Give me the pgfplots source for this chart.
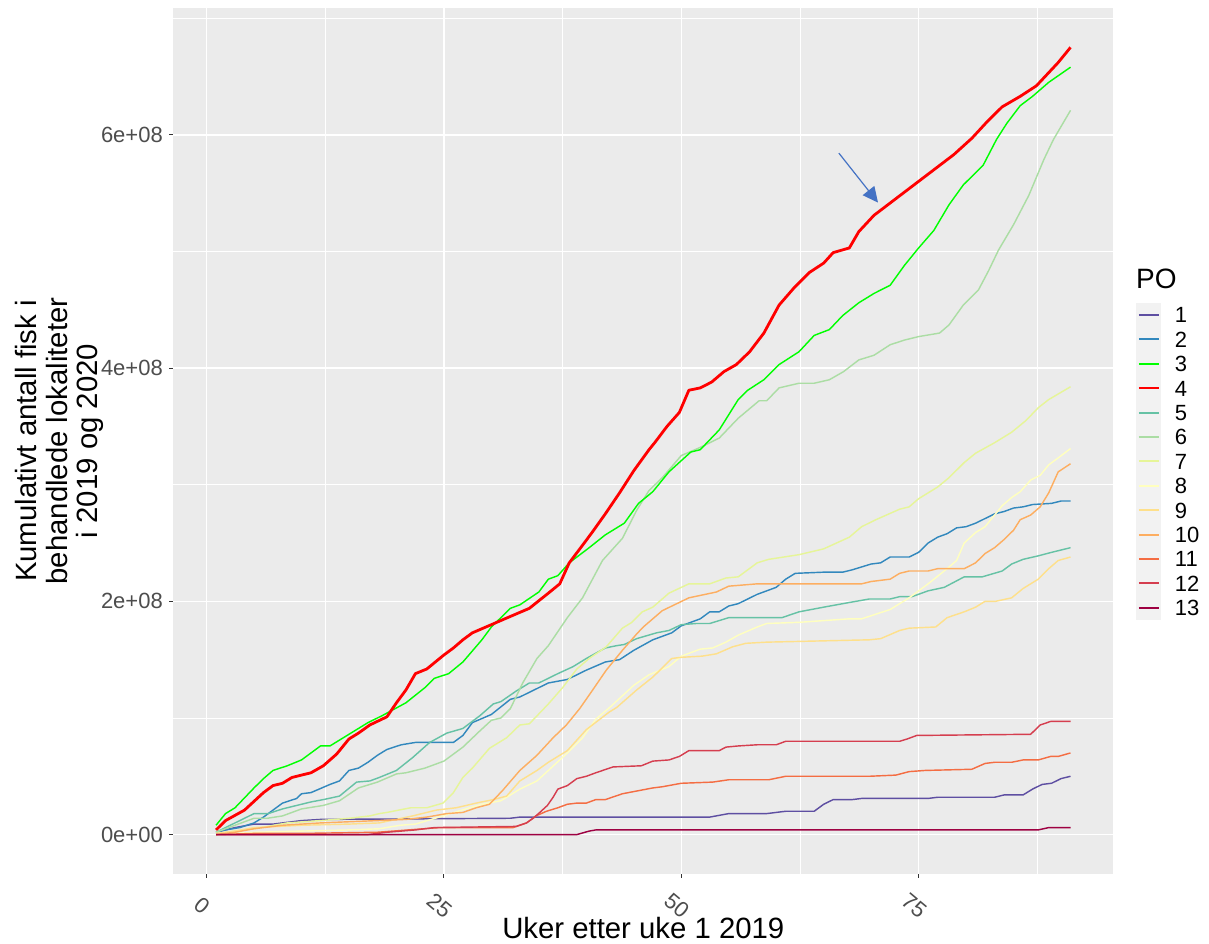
\documentclass[border=0pt]{standalone}
\usepackage{pgfplots}
\pgfplotsset{compat=1.18}
\usepackage{fontspec}
\setmainfont{Liberation Sans}
\usetikzlibrary{arrows.meta}
\definecolor{poA}{HTML}{5E4FA2}
\definecolor{poB}{HTML}{3288BD}
\definecolor{poC}{HTML}{00FF00}
\definecolor{poD}{HTML}{FF0000}
\definecolor{poE}{HTML}{66C2A5}
\definecolor{poF}{HTML}{ABDDA4}
\definecolor{poG}{HTML}{E6F598}
\definecolor{poH}{HTML}{FFFFBF}
\definecolor{poI}{HTML}{FEE08B}
\definecolor{poJ}{HTML}{FDAE61}
\definecolor{poK}{HTML}{F46D43}
\definecolor{poL}{HTML}{D53E4F}
\definecolor{poM}{HTML}{9E0142}
\definecolor{panel}{HTML}{EBEBEB}
\definecolor{keybg}{HTML}{F2F2F2}
\definecolor{arrowblue}{HTML}{4472C4}
\definecolor{ticklab}{HTML}{4D4D4D}
\definecolor{tickcol}{HTML}{333333}
\begin{document}
\begin{tikzpicture}
\useasboundingbox (-130pt,-52.5pt) rectangle (776.8pt,655.5pt);
\begin{axis}[
  at={(0,0)}, anchor=south west,
  scale only axis, width=705pt, height=649.5pt,
  xmin=-3.5, xmax=95.5, ymin=-0.3375, ymax=7.0875,
  axis background/.style={fill=panel},
  axis x line*=bottom, axis y line*=left,
  axis line style={draw=none},
  xtick={0,25,50,75}, xticklabels={0,25,50,75},
  ytick={0,2,4,6}, yticklabels={0e+00,2e+08,4e+08,6e+08},
  minor xtick={12.5,37.5,62.5,87.5}, minor ytick={1,3,5,7},
  xmajorgrids, ymajorgrids, xminorgrids, yminorgrids,
  major grid style={white, line width=1.07pt},
  minor grid style={white, line width=0.53pt},
  tick align=outside, major tick length=3pt, minor tick length=0pt,
  tick style={draw=tickcol, line width=0.8pt},
  ticklabel style={font=\fontsize{16.5}{18}\selectfont, text=ticklab},
  xticklabel style={xshift=-3.4pt, yshift=-21pt, rotate=-40, anchor=center},
  yticklabel style={anchor=east, inner sep=0pt, xshift=-4.7pt},
  xlabel={Uker etter uke 1 2019},
  xlabel style={at={(axis description cs:0.5,-0.062)}, anchor=center, font=\fontsize{22}{23}\selectfont},
  ylabel={Kumulativt antall fisk i\\behandlede lokaliteter\\i 2019 og 2020},
  ylabel style={at={(axis description cs:-0.121,0.5)}, anchor=center, align=center, font=\fontsize{22}{23}\selectfont},
  clip=false,
  legend style={at={(1.0263,0.6552)}, anchor=north west, draw=none, fill=none, inner sep=0pt, outer sep=0pt,
    row sep=0pt, column sep=11.25pt,
    nodes={inner sep=0pt, text height=12.2pt, text depth=6.1pt, anchor=base west},
    font=\fontsize{16.5}{18}\selectfont},
  legend cell align=left,
  legend image code/.code={\draw[line width=1.5pt, #1] (0pt,5.9pt) -- (15pt,5.9pt);},
  every axis plot/.append style={line width=1.07pt, line join=round, no markers},
]
\fill[keybg] (axis description cs:1.0241,0.2933) rectangle (axis description cs:1.0507,0.6594);
\node[anchor=west, inner sep=0pt, font=\fontsize{21}{22}\selectfont] at (axis description cs:1.0241,0.6871) {PO};
% 1
\addplot[color=poA, forget plot] coordinates {(1,0.02) (3,0.06) (5,0.09) (7,0.09) (10,0.12) (12,0.13) (32,0.14) (33,0.15) (53,0.15) (55,0.18) (59,0.18) (61,0.20) (64,0.20) (65,0.26) (66,0.30) (68,0.30) (69,0.31) (76,0.31) (77,0.32) (83,0.32) (84,0.34) (86,0.34) (87,0.39) (88,0.43) (89,0.44) (90,0.48) (91,0.50)};
% 2
\addplot[color=poB, forget plot] coordinates {(1,0.02) (2,0.04) (3.5,0.06) (5,0.10) (6,0.15) (7,0.21) (8,0.27) (9.5,0.31) (10,0.35) (11,0.36) (13,0.43) (14,0.46) (15,0.55) (16,0.57) (17,0.62) (18,0.68) (19,0.73) (20.5,0.77) (22,0.79) (26,0.79) (27,0.85) (28,0.96) (30,1.03) (32,1.16) (33,1.18) (34.5,1.24) (36,1.30) (38,1.33) (39,1.37) (40,1.41) (42,1.48) (43.5,1.50) (45,1.58) (47,1.67) (49,1.73) (50,1.79) (52,1.85) (53,1.91) (54,1.91) (55,1.96) (56,1.98) (58,2.06) (60,2.12) (61,2.19) (62,2.24) (65,2.25) (67,2.25) (68,2.27) (70,2.32) (71,2.33) (72,2.38) (74,2.38) (75,2.42) (76,2.50) (77,2.55) (78,2.58) (79,2.63) (80,2.64) (81,2.67) (82,2.71) (83,2.75) (84,2.77) (85,2.80) (86,2.81) (87,2.83) (89,2.84) (90,2.86) (91,2.86)};
% 5
\addplot[color=poE, forget plot] coordinates {(1,0.02) (3,0.10) (5,0.18) (6.5,0.18) (8,0.22) (10,0.26) (11,0.28) (12.3,0.30) (14,0.33) (15.8,0.45) (17.2,0.46) (18.2,0.49) (20,0.55) (21.7,0.66) (23.5,0.79) (25.3,0.87) (27,0.91) (28.8,1.02) (30.2,1.12) (31,1.14) (32.6,1.23) (34,1.30) (35,1.30) (37,1.38) (38.6,1.44) (40,1.51) (42,1.60) (43.2,1.62) (44,1.63) (45.3,1.68) (47.4,1.73) (48.7,1.75) (50,1.80) (51.6,1.81) (53,1.81) (55,1.86) (60.6,1.86) (62.4,1.91) (65,1.95) (67.7,1.99) (69.8,2.02) (72,2.02) (73,2.04) (74.3,2.04) (76,2.09) (77.7,2.12) (79.8,2.21) (81.7,2.21) (83.8,2.26) (84.8,2.32) (86,2.36) (87.6,2.39) (89,2.42) (91,2.46)};
% 6
\addplot[color=poF, forget plot] coordinates {(1,0.02) (5,0.14) (6.4,0.14) (8,0.16) (10,0.22) (12.3,0.25) (14,0.29) (16,0.40) (18,0.45) (20,0.52) (21,0.53) (23,0.57) (25,0.63) (27,0.75) (28.8,0.89) (30,0.98) (31,1.00) (32,1.08) (33.3,1.30) (34.8,1.51) (36,1.62) (38,1.86) (39.6,2.03) (41.7,2.35) (43.8,2.54) (45.3,2.78) (46.6,2.95) (48,3.06) (50,3.25) (52,3.32) (54,3.40) (56,3.57) (58.2,3.72) (59,3.72) (60.3,3.83) (62.4,3.87) (64,3.87) (65.6,3.90) (67.1,3.97) (68.7,4.07) (70.3,4.11) (72,4.20) (73.5,4.24) (75,4.27) (77.2,4.30) (78.2,4.37) (79.7,4.54) (81.3,4.67) (82.4,4.84) (83.4,5.01) (85,5.23) (86.6,5.48) (88.2,5.79) (89.2,5.96) (91,6.21)};
% 7
\addplot[color=poG, forget plot] coordinates {(1,0.01) (5,0.05) (8.5,0.10) (12,0.12) (15,0.14) (17.2,0.16) (18.2,0.18) (19,0.19) (21.5,0.23) (23.2,0.23) (24.9,0.27) (26,0.36) (27,0.49) (28,0.57) (29.8,0.74) (31.6,0.83) (33,0.94) (34,0.95) (36,1.12) (37.5,1.26) (39,1.42) (40.3,1.51) (42.1,1.61) (43.8,1.77) (44.8,1.82) (45.9,1.91) (47,1.95) (48.7,2.07) (50.8,2.15) (53,2.15) (54.7,2.20) (56,2.21) (58,2.33) (59.2,2.36) (62.4,2.40) (65,2.45) (67.7,2.55) (69,2.64) (70.5,2.70) (73,2.79) (74,2.81) (75,2.88) (77,2.98) (78.2,3.06) (79.8,3.19) (81,3.27) (83,3.36) (84.8,3.45) (86.3,3.55) (87.6,3.66) (88.7,3.73) (91,3.84)};
% 8
\addplot[color=poH, forget plot] coordinates {(1,0.00) (5,0.02) (10,0.03) (15,0.04) (18.2,0.05) (20.4,0.08) (22,0.09) (24.5,0.15) (27.7,0.23) (29,0.26) (31,0.29) (33,0.39) (34.8,0.46) (36,0.55) (38,0.70) (39.6,0.83) (41,0.99) (42.6,1.10) (45,1.28) (46.6,1.37) (48.7,1.44) (50,1.53) (52,1.59) (53.3,1.60) (54.7,1.65) (56,1.71) (58,1.78) (59,1.81) (62.4,1.82) (67.7,1.85) (69,1.85) (70.5,1.89) (72,1.93) (73,1.98) (74,2.03) (76,2.15) (78,2.28) (79,2.35) (79.8,2.50) (81,2.59) (82,2.64) (83.8,2.82) (84.8,2.89) (85.7,2.94) (86.8,3.04) (87.8,3.08) (88.7,3.17) (89.7,3.23) (91,3.31)};
% 9
\addplot[color=poI, forget plot] coordinates {(1,0.01) (3,0.03) (5,0.06) (10,0.08) (15,0.09) (18.2,0.10) (21.7,0.16) (24.2,0.21) (26.3,0.23) (28.4,0.27) (30.2,0.30) (31.6,0.33) (33,0.46) (34.8,0.55) (36,0.62) (38,0.72) (40,0.90) (42.4,1.05) (43.2,1.09) (45.3,1.24) (47,1.35) (49,1.51) (50,1.52) (52.2,1.53) (53.7,1.55) (55.4,1.61) (56.8,1.64) (59,1.65) (69.8,1.67) (71,1.68) (73,1.75) (74,1.77) (76.8,1.78) (78,1.86) (79.8,1.91) (81,1.95) (82,2.00) (83.1,2.00) (84.8,2.03) (86,2.11) (87.6,2.19) (88.7,2.28) (89.7,2.35) (91,2.38)};
% 10
\addplot[color=poJ, forget plot] coordinates {(1,0.00) (3,0.02) (5,0.05) (8,0.08) (12,0.10) (18,0.12) (21,0.13) (23.2,0.15) (25.3,0.18) (27,0.19) (28.4,0.23) (29.8,0.26) (31.2,0.38) (33,0.55) (34.8,0.68) (36.5,0.83) (37.9,0.94) (39.3,1.08) (40.5,1.22) (42.1,1.41) (43.8,1.58) (45.3,1.72) (46,1.78) (48,1.92) (50.8,2.03) (53.7,2.08) (55,2.13) (58,2.15) (69,2.15) (70,2.17) (72,2.19) (73,2.24) (74,2.26) (76,2.26) (77,2.28) (79.8,2.28) (81,2.33) (82,2.41) (83,2.46) (84,2.53) (85,2.61) (85.7,2.70) (86.8,2.74) (87.8,2.81) (88.7,2.93) (89.7,3.11) (91,3.18)};
% 11
\addplot[color=poK, forget plot] coordinates {(1,0.00) (5,0.01) (10,0.01) (18,0.02) (24.5,0.06) (32.3,0.06) (33.7,0.10) (34.7,0.16) (35.8,0.20) (37,0.23) (38,0.26) (39,0.27) (40,0.27) (41,0.30) (42,0.30) (43.8,0.35) (47,0.40) (48,0.41) (50,0.44) (53.3,0.45) (55,0.47) (59.2,0.47) (61,0.50) (69.8,0.50) (72.6,0.51) (74,0.54) (75.7,0.55) (80.6,0.56) (82,0.61) (83,0.62) (84.8,0.62) (86,0.64) (87.6,0.64) (88.9,0.67) (89.7,0.67) (91,0.70)};
% 12
\addplot[color=poL, forget plot] coordinates {(1,0.00) (17,0.00) (19,0.02) (22,0.04) (24,0.06) (32.6,0.07) (33.7,0.10) (34.4,0.14) (35.1,0.19) (35.9,0.25) (36.5,0.32) (37,0.39) (38,0.42) (39,0.48) (40,0.50) (41,0.53) (42.8,0.58) (45.8,0.59) (47,0.63) (48.7,0.64) (49.8,0.67) (50.8,0.72) (54,0.72) (54.7,0.75) (56,0.76) (58,0.77) (60,0.77) (61,0.80) (73,0.80) (73.8,0.82) (74.8,0.85) (86.8,0.86) (87.8,0.94) (88.9,0.97) (91,0.97)};
% 13
\addplot[color=poM, forget plot] coordinates {(1,0.00) (39,0.00) (40.3,0.03) (41,0.04) (87.6,0.04) (88.7,0.06) (91,0.06)};
% 3
\addplot[color=poC, forget plot] coordinates {(1,0.08) (2,0.18) (3,0.23) (5,0.40) (6,0.48) (7,0.55) (8.5,0.59) (10,0.64) (12,0.76) (13,0.76) (14,0.81) (16,0.91) (17,0.96) (18.5,1.02) (21,1.13) (23,1.26) (24,1.34) (25.5,1.38) (27,1.48) (29,1.67) (30,1.78) (32,1.94) (33,1.97) (35,2.08) (36,2.19) (37,2.22) (38.2,2.33) (40.3,2.46) (42,2.57) (44,2.67) (45.5,2.84) (47,2.94) (48.7,3.11) (51,3.28) (52,3.30) (54,3.47) (56,3.73) (57,3.81) (58.7,3.90) (60.3,4.03) (62.4,4.14) (64,4.28) (65.6,4.33) (67,4.45) (68.7,4.56) (70.3,4.64) (72,4.71) (73.5,4.88) (75,5.03) (76.6,5.18) (78.2,5.40) (79.7,5.57) (81.8,5.74) (83.2,5.96) (84.3,6.10) (85.7,6.25) (87,6.33) (88.7,6.45) (91,6.58)};
% 4
\addplot[color=poD, line width=2.1pt, forget plot] coordinates {(1,0.04) (2,0.12) (4,0.21) (6,0.36) (7,0.42) (8,0.44) (9,0.49) (11,0.53) (12.3,0.59) (13.7,0.69) (15,0.82) (16,0.87) (17.2,0.94) (19,1.01) (20,1.13) (21,1.24) (22,1.38) (23.2,1.42) (25,1.54) (26,1.60) (27,1.67) (28,1.73) (30,1.80) (31.7,1.86) (34,1.94) (36,2.07) (37.2,2.15) (38.2,2.33) (39.5,2.47) (40.6,2.59) (42,2.75) (43.5,2.93) (45,3.12) (46.6,3.30) (47.2,3.36) (48.5,3.50) (49.8,3.62) (50.8,3.81) (52,3.83) (53.2,3.88) (54.5,3.97) (55.8,4.03) (57.2,4.14) (58.7,4.30) (60.3,4.54) (61.9,4.69) (63.5,4.82) (65,4.90) (66,4.99) (67.7,5.03) (68.7,5.17) (70.3,5.31) (72.4,5.44) (74.5,5.57) (76.6,5.70) (78.7,5.83) (80.6,5.97) (82.3,6.12) (83.8,6.24) (85.7,6.33) (87.4,6.42) (89.7,6.62) (91,6.75)};
\draw[arrowblue, line width=0.9pt, -{Triangle[length=11.5pt,width=11pt]}] (axis cs:66.6,5.843) -- (axis cs:70.72,5.419);
\addlegendimage{draw=poA}\addlegendentry{1}
\addlegendimage{draw=poB}\addlegendentry{2}
\addlegendimage{draw=poC}\addlegendentry{3}
\addlegendimage{draw=poD}\addlegendentry{4}
\addlegendimage{draw=poE}\addlegendentry{5}
\addlegendimage{draw=poF}\addlegendentry{6}
\addlegendimage{draw=poG}\addlegendentry{7}
\addlegendimage{draw=poH}\addlegendentry{8}
\addlegendimage{draw=poI}\addlegendentry{9}
\addlegendimage{draw=poJ}\addlegendentry{10}
\addlegendimage{draw=poK}\addlegendentry{11}
\addlegendimage{draw=poL}\addlegendentry{12}
\addlegendimage{draw=poM}\addlegendentry{13}
\end{axis}
\end{tikzpicture}
\end{document}
